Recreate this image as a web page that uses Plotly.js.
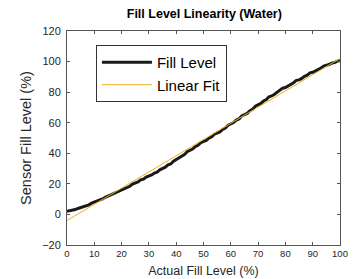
<!DOCTYPE html>
<html>
<head>
<meta charset="utf-8">
<script src="https://cdn.plot.ly/plotly-3.0.1.min.js"></script>
<style>html,body{margin:0;padding:0;background:#fff}#plot{width:356px;height:279px}</style>
</head>
<body>
<div id="plot"></div>
<script>
var actualLevel = [0,1,2,3,4,5,6,7,8,9,10,11,12,13,14,15,16,17,18,19,20,21,22,23,24,25,26,27,28,29,30,31,32,33,34,35,36,37,38,39,40,41,42,43,44,45,46,47,48,49,50,51,52,53,54,55,56,57,58,59,60,61,62,63,64,65,66,67,68,69,70,71,72,73,74,75,76,77,78,79,80,81,82,83,84,85,86,87,88,89,90,91,92,93,94,95,96,97,98,99,100];
var sensorLevel = [2.0,2.3,2.9,3.2,3.9,4.5,4.9,5.8,6.3,7.4,8.0,8.6,9.6,10.1,11.2,12.0,12.6,13.7,14.2,15.4,16.0,16.7,17.9,18.4,19.8,20.5,21.2,22.6,23.1,24.5,25.0,25.8,27.1,27.7,29.2,30.0,30.9,32.4,33.0,34.8,36.0,36.8,38.4,39.1,41.0,42.0,42.8,44.4,45.2,46.9,47.5,48.4,49.9,50.8,52.5,53.0,54.0,55.6,56.5,58.4,59.0,60.1,61.7,62.5,64.4,65.0,66.1,67.9,68.8,70.8,71.5,72.6,74.2,75.1,77.0,77.5,78.6,80.0,80.9,82.6,83.0,84.0,85.4,86.2,87.7,88.0,89.0,90.4,91.1,92.6,93.0,93.8,95.0,95.7,97.1,97.5,98.1,99.0,99.4,100.3,100.5];
var fitX = [0, 100];
var fitY = [-4, 102];
var xTicks = [0,10,20,30,40,50,60,70,80,90,100];
var yTicks = [-20,0,20,40,60,80,100,120];

var font = "Liberation Sans, Arial, Helvetica, sans-serif";
var traces = [
  {x: actualLevel, y: sensorLevel, type: 'scatter', mode: 'lines', name: 'Fill Level',
   line: {color: '#1a1a1a', width: 3}},
  {x: fitX, y: fitY, type: 'scatter', mode: 'lines', name: 'Linear Fit',
   line: {color: '#EDB120', width: 1}}
];
var axisCommon = {
  showgrid: false, zeroline: false, showline: true, mirror: 'ticks',
  linecolor: '#555', linewidth: 1, ticks: 'inside', ticklen: 3, tickcolor: '#555',
  tickfont: {family: font, color: '#262626'}
};
var layout = {
  width: 356, height: 279,
  margin: {l: 67, r: 16, t: 31, b: 34},
  paper_bgcolor: '#fff', plot_bgcolor: '#fff',
  title: {text: '<b>Fill Level Linearity (Water)</b>', font: {family: font, size: 12.5, color: '#000'},
          x: 0.574, xanchor: 'center', y: 0.95, yanchor: 'middle'},
  xaxis: Object.assign({}, axisCommon, {
    range: [0, 100], tickvals: xTicks, tickfont: {family: font, size: 9.5, color: '#262626'},
    title: {text: 'Actual Fill Level (%)', font: {family: font, size: 12.5, color: '#262626'}, standoff: 7}
  }),
  yaxis: Object.assign({}, axisCommon, {
    range: [-20, 120], tickvals: yTicks, ticklabelstandoff: 3, tickfont: {family: font, size: 11, color: '#262626'},
    title: {text: 'Sensor Fill Level (%)', font: {family: font, size: 14.5, color: '#262626'}, standoff: 7}
  }),
  showlegend: true,
  legend: {x: 0.106, y: 0.935, xanchor: 'left', yanchor: 'top', bgcolor: '#fff',
           bordercolor: '#333', borderwidth: 1, font: {family: font, size: 15, color: '#000'},
           itemwidth: 50, tracegroupgap: 0}
};
Plotly.newPlot('plot', traces, layout, {displayModeBar: false, staticPlot: true});
</script>
</body>
</html>
